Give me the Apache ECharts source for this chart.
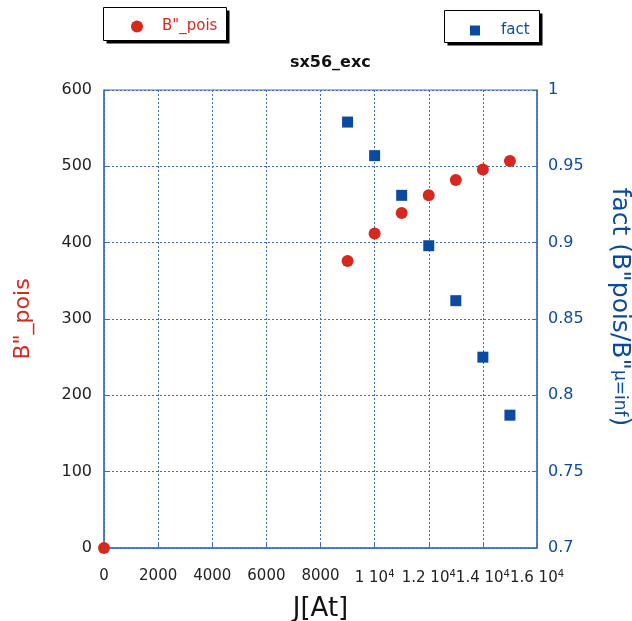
<!DOCTYPE html>
<html>
<head>
<meta charset="utf-8">
<script src="https://cdn.jsdelivr.net/npm/echarts@6/dist/echarts.min.js"></script>
<style>
  html, body { margin: 0; padding: 0; background: #fff; }
  #main { width: 632px; height: 621px; }
</style>
</head>
<body>
<div id="main"></div>
<script>
// J[At] values for the B"_pois series
var jPois = [0, 9000, 10000, 11000, 12000, 13000, 14000, 15000];
var bPois = [0, 376, 412, 439, 462, 482, 496, 507];
// J[At] values for the fact series (right axis)
var jFact = [9000, 10000, 11000, 12000, 13000, 14000, 15000];
var fact = [0.979, 0.957, 0.931, 0.898, 0.862, 0.825, 0.787];

var RED = '#d7281f';
var BLUE = '#0c4a9f';
var AXIS = '#3b6cc2';
var FONT = 'DejaVu Sans';

function pairs(xs, ys) {
	var out = [];
	for (var i = 0; i < xs.length; i++) {
		out.push([xs[i], ys[i]]);
	}
	return out;
}

// x labels like "1.2 10^4" for values from 10000 on
function xLabel(v) {
	if (v >= 10000) {
		return '{n|' + (v / 10000) + ' 10}{s|4}';
	}
	return '{n|' + v + '}';
}

// legend frame: black offset block under a white bordered box
function legendBox(x, y, w, h) {
	return [{
		type: 'rect', z: 1,
		shape: { x: x + 3, y: y + 3, width: w, height: h },
		style: { fill: '#000' }
	}, {
		type: 'rect', z: 2,
		shape: { x: x, y: y, width: w, height: h },
		style: { fill: '#fff', stroke: '#000', lineWidth: 1 }
	}];
}

var chart = echarts.init(document.getElementById('main'));
var option = {
	backgroundColor: '#fff',
	animation: false,
	graphic: legendBox(103.5, 7.5, 123, 33).concat(legendBox(444.5, 10.5, 95, 32)),
	title: {
		text: 'sx56_exc',
		left: 285,
		top: 50,
		textStyle: { fontFamily: FONT, fontSize: 16, fontWeight: 'bold', color: '#111' }
	},
	legend: [{
		data: ['B"_pois'],
		left: 131,
		top: 19,
		padding: 0,
		z: 10,
		itemWidth: 12,
		itemHeight: 12,
		textStyle: { fontFamily: FONT, fontSize: 15, color: RED, padding: [0, 0, 0, 14] }
	}, {
		data: ['fact'],
		left: 470,
		top: 23,
		padding: 0,
		z: 10,
		itemWidth: 10,
		itemHeight: 10,
		textStyle: { fontFamily: FONT, fontSize: 15, color: BLUE, padding: [0, 0, 0, 16] }
	}],
	grid: {
		left: 104,
		right: 95,
		top: 90,
		bottom: 73,
		outerBoundsMode: 'none',
		show: true,
		borderColor: AXIS,
		borderWidth: 1
	},
	xAxis: {
		type: 'value',
		min: 0,
		max: 16000,
		interval: 2000,
		name: 'J[At]',
		nameLocation: 'middle',
		nameGap: 48,
		nameTextStyle: { fontFamily: FONT, fontSize: 26, color: '#111' },
		axisLine: { lineStyle: { color: AXIS, width: 1.5 } },
		axisTick: { inside: true, length: 5, lineStyle: { color: AXIS } },
		axisLabel: {
			margin: 21,
			showMaxLabel: true,
			hideOverlap: false,
			formatter: xLabel,
			rich: {
				n: { fontFamily: FONT, fontSize: 15, color: '#222' },
				s: { fontFamily: FONT, fontSize: 10, color: '#222', padding: [0, 0, 9, 0] }
			}
		},
		splitLine: { show: true, lineStyle: { color: AXIS, type: [2, 2], width: 1 } }
	},
	yAxis: [{
		type: 'value',
		position: 'left',
		min: 0,
		max: 600,
		interval: 100,
		name: 'B"_pois',
		nameLocation: 'middle',
		nameGap: 70,
		nameTextStyle: { fontFamily: FONT, fontSize: 22, color: RED },
		axisLine: { show: true, lineStyle: { color: AXIS, width: 1.5 } },
		axisTick: { show: true, inside: true, length: 5, lineStyle: { color: AXIS } },
		axisLabel: { margin: 12, fontFamily: FONT, fontSize: 16, color: '#222' },
		splitLine: { show: true, lineStyle: { color: AXIS, type: [2, 2], width: 1 } }
	}, {
		type: 'value',
		position: 'right',
		min: 0.7,
		max: 1,
		interval: 0.05,
		name: '{m|fact (B"pois/B"}{u|μ=inf}{m|)}',
		nameLocation: 'middle',
		nameRotate: -90,
		nameGap: 70,
		nameTextStyle: {
			padding: [0, 24, 0, 0],
			rich: {
				m: { fontFamily: FONT, fontSize: 25, color: BLUE },
				u: { fontFamily: FONT, fontSize: 17, color: BLUE }
			}
		},
		axisLine: { show: true, lineStyle: { color: AXIS, width: 1.5 } },
		axisTick: { show: true, inside: true, length: 5, lineStyle: { color: AXIS } },
		axisLabel: {
			margin: 11,
			fontFamily: FONT,
			fontSize: 16,
			color: BLUE,
			formatter: function (v) { return String(+v.toFixed(2)); }
		},
		splitLine: { show: false }
	}],
	series: [{
		name: 'B"_pois',
		type: 'scatter',
		yAxisIndex: 0,
		symbol: 'circle',
		symbolSize: 12,
		clip: false,
		itemStyle: { color: RED, opacity: 1 },
		data: pairs(jPois, bPois)
	}, {
		name: 'fact',
		type: 'scatter',
		yAxisIndex: 1,
		symbol: 'rect',
		symbolSize: 11,
		clip: false,
		itemStyle: { color: BLUE, opacity: 1 },
		data: pairs(jFact, fact)
	}]
};
chart.setOption(option);
</script>
</body>
</html>
